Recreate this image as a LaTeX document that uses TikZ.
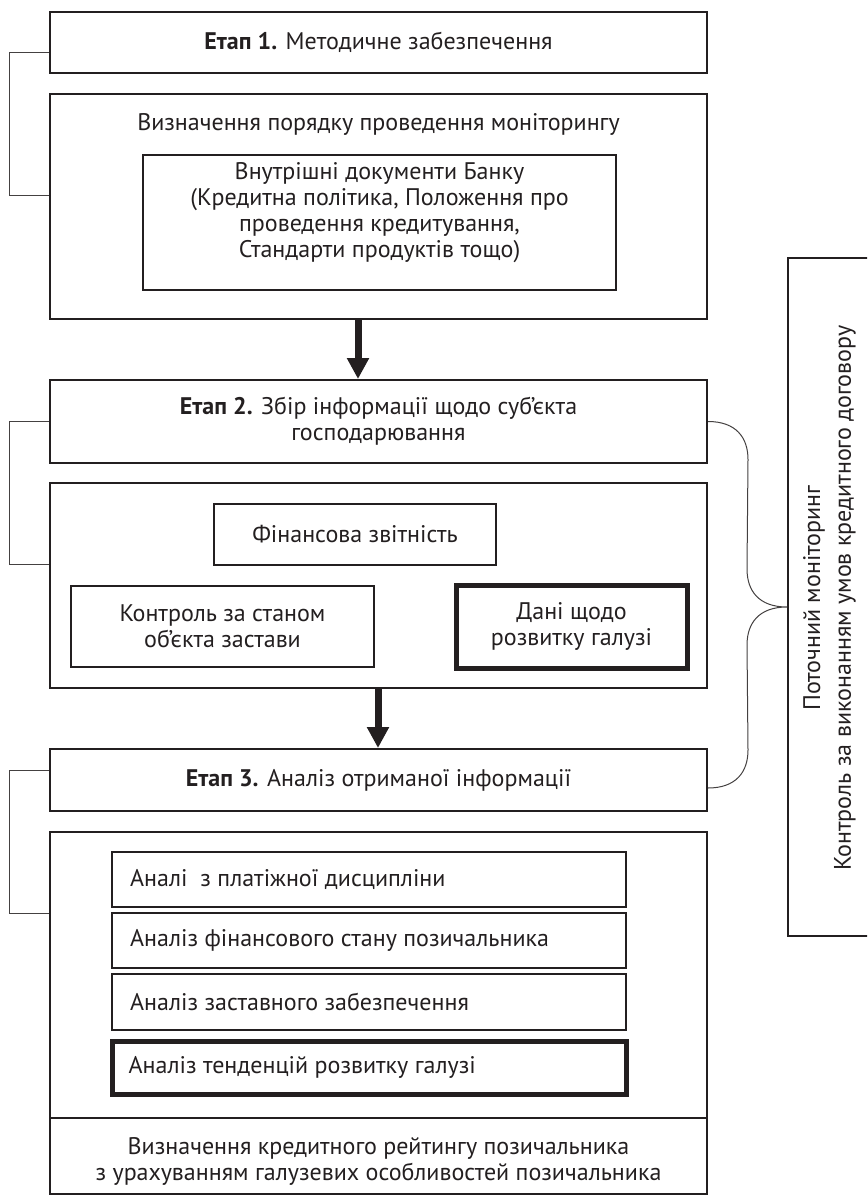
\documentclass[tikz,border=0pt]{standalone}
\usepackage{fontspec}
\setmainfont{PT Sans}
\usetikzlibrary{arrows.meta,calc}
\definecolor{ink}{HTML}{231F20}
\begin{document}
\begin{tikzpicture}[x=1pt,y=-1pt,
  txt/.style={font=\fontsize{24}{26}\selectfont, text=ink, align=center, inner sep=0pt},
  frame/.style={draw=ink, line width=2pt, inner sep=0pt},
  heavy/.style={draw=ink, line width=5pt, inner sep=0pt},
  bracket/.style={draw=ink!85, line width=1pt},
  bigarrow/.style={draw=ink, line width=7pt, -{Triangle[width=21pt,length=21pt]}}]
\clip (0,0) rectangle (867,1198);
\useasboundingbox (0,0) rectangle (867,1198);
% stage 1
\node[frame, minimum width=657pt, minimum height=61pt] (e1) at (378.5,42.5) {};
\node[txt] (e1t) at (e1) {\textbf{Етап 1.} Методичне забезпечення};
\node[frame, minimum width=657pt, minimum height=225pt] (b1) at (378.5,206.5) {};
\node[txt] (b1t) at (378.5,124) {Визначення порядку проведення моніторингу};
\node[frame, minimum width=473pt, minimum height=135pt] (i1) at (379.5,222.5) {};
\node[txt] (i1t) at (379.5,213) {Внутрішні документи Банку\\(Кредитна політика, Положення про\\проведення кредитування,\\Стандарти продуктів тощо)};
% stage 2
\node[frame, minimum width=657pt, minimum height=83pt] (e2) at (378.5,421.5) {};
\node[txt] (e2t) at (e2) {\textbf{Етап 2.} Збір інформації щодо суб’єкта\\господарювання};
\node[frame, minimum width=657pt, minimum height=205pt] (b2) at (378.5,585.5) {};
\node[frame, minimum width=282pt, minimum height=61pt] (fin) at (355,534.5) {};
\node[txt] (fint) at (fin) {Фінансова звітність};
\node[frame, minimum width=303pt, minimum height=81pt] (kon) at (222.5,626.5) {};
\node[txt] (kont) at (kon) {Контроль за станом\\об’єкта застави};
\node[heavy, minimum width=231pt, minimum height=83pt] (dan) at (571.5,626.5) {};
\node[txt] (dant) at (dan) {Дані щодо\\розвитку галузі};
% stage 3
\node[frame, minimum width=657pt, minimum height=62pt] (e3) at (378.5,780) {};
\node[txt] (e3t) at (e3) {\textbf{Етап 3.} Аналіз отриманої інформації};
\node[frame, minimum width=657pt, minimum height=362pt] (b3) at (378.5,1013) {};
\node[frame, minimum width=514pt, minimum height=55pt] (a1) at (369,879.5) {};
\node[txt, anchor=west] (a1t) at ([xshift=19pt]a1.west) {Аналі\ \ з платіжної дисципліни};
\node[frame, minimum width=514pt, minimum height=55pt] (a2) at (369,940.5) {};
\node[txt, anchor=west] (a2t) at ([xshift=19pt]a2.west) {Аналіз фінансового стану позичальника};
\node[frame, minimum width=514pt, minimum height=56pt] (a3) at (369,1002) {};
\node[txt, anchor=west] (a3t) at ([xshift=19pt]a3.west) {Аналіз заставного забезпечення};
\node[heavy, minimum width=514pt, minimum height=53pt] (a4) at (369,1067.5) {};
\node[txt, anchor=west] (a4t) at ([xshift=19pt]a4.west) {Аналіз тенденцій розвитку галузі};
\coordinate (sep) at (0,1118);
\draw[frame] (b3.west |- sep) -- (b3.east |- sep);
\node[txt] (rt) at (378.5,1161) {Визначення кредитного рейтингу позичальника\\з урахуванням галузевих особливостей позичальника};
% right column
\node[frame, minimum width=112pt, minimum height=678pt] (vb) at (844,597) {};
\node[txt, rotate=90] (vt1) at (814,598) {Поточний моніторинг};
\node[txt, rotate=90] (vt2) at (845,598) {Контроль за виконанням умов кредитного договору};
% arrows
\coordinate (ar1) at (358,0);
\coordinate (ar2) at (378,0);
\draw[bigarrow] (b1.south -| ar1) -- (e2.north -| ar1);
\draw[bigarrow] (b2.south -| ar2) -- (e3.north -| ar2);
% left brackets
\draw[bracket] ([yshift=-10.5pt]e1.west) -- ++(-40,0) |- ([yshift=10.5pt]b1.west);
\draw[bracket] (e2.west) -- ++(-40,0) |- ([yshift=21.5pt]b2.west);
\draw[bracket] ([yshift=10pt]e3.west) -- ++(-40,0) |- ([yshift=100pt]b3.west);
% brace
\coordinate (bs) at (e2.east);
\coordinate (be) at ([yshift=-8pt]e3.east);
\coordinate (bt) at ([yshift=-10pt]vb.west);
\draw[bracket] (bs) .. controls +(28,0) and +(0,-22) .. ($(bs)+(40,38)$)
  -- ($(bt)+(-40,-38)$) .. controls +(0,22) and +(-28,0) .. (bt)
  .. controls +(-28,0) and +(0,-22) .. ($(bt)+(-40,38)$)
  -- ($(be)+(40,-38)$) .. controls +(0,22) and +(28,0) .. (be);
\end{tikzpicture}
\end{document}
